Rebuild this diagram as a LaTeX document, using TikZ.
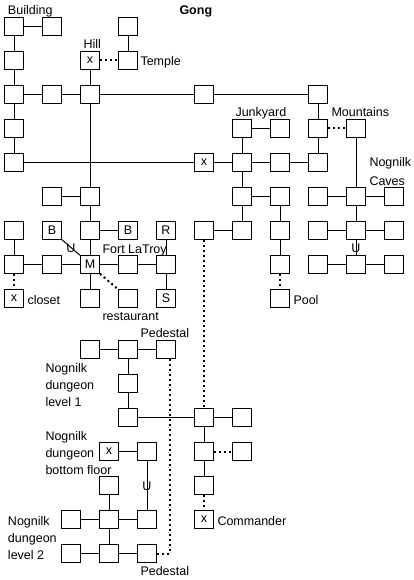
\documentclass[tikz,border=0pt]{standalone}
\usepackage{fontspec}
\setmainfont{Liberation Sans}
\begin{document}
\begin{tikzpicture}[x=1pt,y=-1pt,line width=1pt,
  roombox/.style={draw=black,fill=white,minimum width=19pt,minimum height=17.5pt,inner sep=0pt,font=\fontsize{12.5}{14}\selectfont},
  lab/.style={anchor=base west,inner sep=0pt,font=\fontsize{12.5}{14}\selectfont},
  stairs/.style={inner sep=0pt,font=\fontsize{12.5}{14}\selectfont},
  doted/.style={line width=2pt,dash pattern=on 2pt off 3pt}]
\useasboundingbox (0,0) rectangle (414,580);
\fill[white] (0,0) rectangle (414,580);
\foreach \x/\y/\t in {
 14/27/,52/27/,128/27/,
 14/61/,90/61/x,128/61/,
 14/95/,52/95/,90/95/,204/95/,318/95/,
 14/129/,242/129/,280/129/,318/129/,356/129/,
 14/163/,204/163/x,242/163/,280/163/,318/163/,
 52/197/,90/197/,242/197/,280/197/,318/197/,356/197/,394/197/,
 14/231/,52/231/B,90/231/,128/231/B,166/231/R,204/231/,242/231/,280/231/,318/231/,356/231/,394/231/,
 14/265/,52/265/,90/265/M,128/265/,166/265/,280/265/,318/265/,356/265/,394/265/,
 14/299/x,90/299/,128/299/,166/299/S,280/299/,
 90/350/,128/350/,166/350/,
 128/384/,
 128/418/,204/418/,242/418/,
 109/452/x,147/452/,204/452/,242/452/,
 109/486/,204/486/,
 71/520/,109/520/,147/520/,204/520/x,
 71/554/,109/554/,147/554/}
 {\node[roombox] (n\x-\y) at (\x,\y-0.5) {\t};}
\coordinate (dropTop) at ([xshift=3.5pt]n166-350.south);
\coordinate (dropBottom) at (n166-350.south |- n147-554.east);
\coordinate (dropBend) at ([xshift=3.5pt]dropBottom);
\foreach \a/\b in {
 14-27/52-27,14-27/14-61,14-61/14-95,14-95/14-129,14-129/14-163,14-95/52-95,52-95/90-95,
 90-61/90-95,128-27/128-61,90-95/204-95,204-95/318-95,90-95/90-197,14-163/204-163,
 204-163/242-163,242-163/280-163,280-163/318-163,318-95/318-129,318-129/318-163,
 242-129/280-129,242-129/242-163,242-163/242-197,242-197/242-231,242-197/280-197,204-231/242-231,
 280-197/280-231,280-231/280-265,356-129/356-197,318-197/356-197,356-197/394-197,356-197/356-231,
 318-231/356-231,356-231/394-231,356-231/356-265,318-265/356-265,356-265/394-265,
 52-197/90-197,90-197/90-231,90-231/128-231,90-231/90-265,14-231/14-265,14-265/52-265,52-265/90-265,
 90-265/128-265,128-265/166-265,166-231/166-265,166-265/166-299,90-265/90-299,
 90-350/128-350,128-350/166-350,128-350/128-384,128-384/128-418,128-418/204-418,204-418/242-418,
 204-418/204-452,204-452/204-486,109-452/147-452,147-452/147-520,109-486/109-520,71-520/109-520,
 109-520/147-520,109-520/109-554,71-554/109-554,109-554/147-554}
 {\draw (n\a) -- (n\b);}
\draw (n52-231.south east) -- (n90-265.north west);
\foreach \a/\b in {90-61/128-61,318-129/356-129,280-265/280-299,14-265/14-299,204-452/242-452,204-486/204-520,204-231/204-418}
 {\draw[doted] (n\a) -- (n\b);}
\draw[doted] (n90-265.south east) -- (n128-299.north west);
\draw[doted] (dropTop) -- (dropBend) -- (n147-554.east);
\foreach \p/\q/\r in {u1/71/248,u2/356/248,u3/147/486}
 {\node[stairs] (\p) at (\q,\r) {U};}
\node[lab] (tBuilding) at (7.5,15) {Building};
\node[lab,font=\fontsize{12.5}{14}\selectfont\bfseries] (tGong) at (179,15) {Gong};
\node[lab] (tHill) at (83,49) {Hill};
\node[lab] (tTemple) at (140,66) {Temple};
\node[lab] (tJunk) at (235,117) {Junkyard};
\node[lab] (tMount) at (331,117) {Mountains};
\node[lab] (tNog) at (369,167) {Nognilk};
\node[lab] (tCaves) at (369,185) {Caves};
\node[lab] (tFort) at (102,253) {Fort LaTroy};
\node[lab] (tPool) at (293,304) {Pool};
\node[lab] (tCloset) at (27,304) {closet};
\node[lab] (tRest) at (102,320) {restaurant};
\node[lab] (tPedA) at (140,337) {Pedestal};
\node[lab] (tNa) at (45,372) {Nognilk};
\node[lab] (tNb) at (45,389) {dungeon};
\node[lab] (tNc) at (45,406) {level 1};
\node[lab] (tNd) at (45,440) {Nognilk};
\node[lab] (tNe) at (45,457) {dungeon};
\node[lab] (tNf) at (45,474) {bottom floor};
\node[lab] (tNg) at (7.5,525) {Nognilk};
\node[lab] (tNh) at (7.5,542) {dungeon};
\node[lab] (tNi) at (7.5,559) {level 2};
\node[lab] (tComm) at (217,525) {Commander};
\node[lab] (tPedB) at (140,575) {Pedestal};
\end{tikzpicture}
\end{document}
